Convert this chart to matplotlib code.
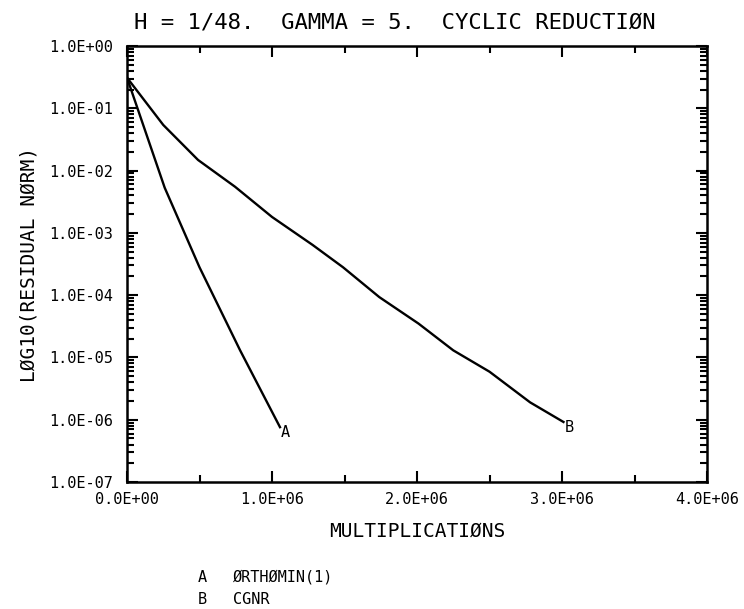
import matplotlib
matplotlib.use('Agg')
import matplotlib.pyplot as plt
import matplotlib.ticker as mticker
import numpy as np

# ORTHOMIN(1) convergence history
orthomin_mults = [0.0, 0.26e6, 0.50e6, 0.78e6, 1.055e6]
orthomin_resid = [0.31, 5.3e-3, 2.8e-4, 1.3e-5, 7.6e-7]

# CGNR convergence history
cgnr_mults = [0.0, 0.25e6, 0.49e6, 0.745e6, 1.0e6, 1.28e6, 1.49e6, 1.74e6,
              2.01e6, 2.25e6, 2.5e6, 2.78e6, 3.01e6]
cgnr_resid = [0.31, 0.054, 0.0148, 5.5e-3, 1.8e-3, 6.4e-4, 2.8e-4, 9.3e-5,
              3.5e-5, 1.3e-5, 5.9e-6, 1.9e-6, 9.2e-7]

curve_tags = ['A', 'B']
curve_names = ['\u00d8RTH\u00d8MIN(1)', 'CGNR']

x_ticks = [0.0, 1.0e6, 2.0e6, 3.0e6, 4.0e6]
y_ticks = [1e0, 1e-1, 1e-2, 1e-3, 1e-4, 1e-5, 1e-6, 1e-7]

plt.rcParams['font.family'] = 'DejaVu Sans Mono'

fig = plt.figure(figsize=(7.44, 6.09), dpi=100)
ax = fig.add_axes([0.1707, 0.2085, 0.7796, 0.716])

ax.plot(orthomin_mults, orthomin_resid, color='black', lw=1.7)
ax.plot(cgnr_mults, cgnr_resid, color='black', lw=1.7)

# curve tags at the last point of each run
for xs, ys, tag in [(orthomin_mults, orthomin_resid, curve_tags[0]),
                    (cgnr_mults, cgnr_resid, curve_tags[1])]:
    ax.annotate(tag, (xs[-1], ys[-1]), xytext=(4, -4), textcoords='offset points',
                ha='center', va='center', fontsize=11, color='black')

ax.set_yscale('log')
ax.set_xlim(0, 4.0e6)
ax.set_ylim(1e-7, 1e0)

def sci_fmt(v, pos):
    if v == 0:
        return '0.0E+00'
    e = int(np.floor(np.log10(abs(v)) + 1e-9))
    m = v / 10**e
    return '%.1fE%s%02d' % (m, '+' if e >= 0 else '-', abs(e))

ax.xaxis.set_major_locator(mticker.FixedLocator(x_ticks))
ax.xaxis.set_minor_locator(mticker.MultipleLocator(0.5e6))
ax.yaxis.set_major_locator(mticker.FixedLocator(y_ticks))
ax.yaxis.set_minor_locator(mticker.LogLocator(base=10, subs=np.arange(2, 10)))
ax.yaxis.set_minor_formatter(mticker.NullFormatter())
ax.xaxis.set_major_formatter(mticker.FuncFormatter(sci_fmt))
ax.yaxis.set_major_formatter(mticker.FuncFormatter(sci_fmt))

ax.tick_params(which='both', direction='in', top=True, right=True, width=1.5,
               labelsize=11, colors='black')
ax.tick_params(which='major', length=8)
ax.tick_params(axis='y', which='major', pad=10)
ax.tick_params(axis='x', which='major', pad=7)
ax.tick_params(which='minor', length=5)
for sp in ax.spines.values():
    sp.set_linewidth(1.8)

ax.set_xlabel('MULTIPLICATI\u00d8NS', fontsize=14, labelpad=11)
ax.set_ylabel('L\u00d8G10(RESIDUAL N\u00d8RM)', fontsize=14, labelpad=8)

fig.text(395 / 744, 1 - 22 / 609, 'H = 1/48.  GAMMA = 5.  CYCLIC REDUCTI\u00d8N',
         ha='center', va='center', fontsize=16)

# key below the plot
for i, (tag, name) in enumerate(zip(curve_tags, curve_names)):
    yy = 1 - (577 + 23 * i) / 609
    fig.text(198 / 744, yy, tag, ha='left', va='center', fontsize=11)
    fig.text(233 / 744, yy, name, ha='left', va='center', fontsize=11)

fig.savefig('out.png', dpi=100, facecolor='white')
